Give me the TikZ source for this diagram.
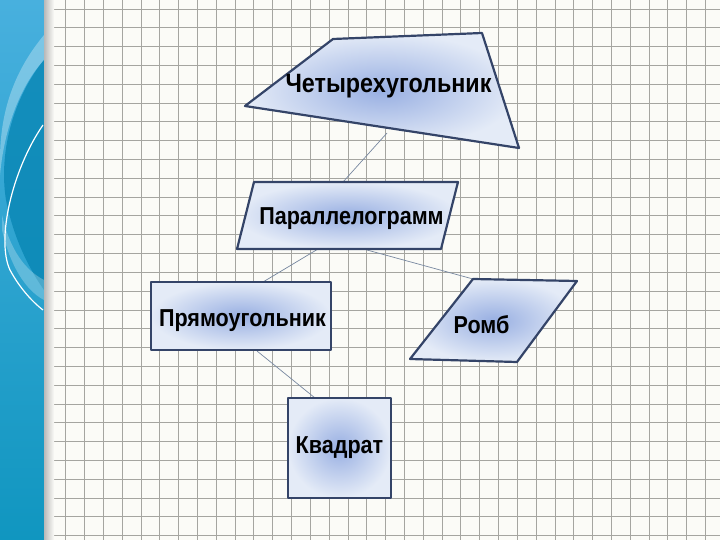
\documentclass[tikz,border=0pt]{standalone}
\usepackage{fontspec}
\setmainfont{Liberation Sans}
\newfontfamily\labelfont[FakeStretch=0.88]{Liberation Sans}
\definecolor{paper}{RGB}{251,251,247}
\definecolor{gridgray}{RGB}{165,165,160}
\definecolor{stripTop}{RGB}{72,176,222}
\definecolor{stripBot}{RGB}{16,150,192}
\definecolor{stripDark}{RGB}{8,134,180}
\definecolor{shapein}{RGB}{152,175,226}
\definecolor{shapeout}{RGB}{228,235,247}
\definecolor{shapeline}{RGB}{52,68,104}
\definecolor{linkgray}{RGB}{120,136,160}
\begin{document}
\begin{tikzpicture}[x=1pt,y=-1pt,
  gridline/.style={draw=gridgray, line width=0.6pt},
  figbox/.style={draw=shapeline, line width=2.2pt, line join=round, inner color=shapein, outer color=shapeout},
  link/.style={draw=linkgray, line width=0.7pt},
  lbl/.style={font=\labelfont\bfseries\fontsize{24.5}{28}\selectfont, text=black, anchor=base, inner sep=0pt}]
\useasboundingbox (0,0) rectangle (720,540);
\fill[paper] (0,0) rectangle (720,540);
\foreach \i in {0,...,36}
  \draw[gridline] ({46.7+18.82*\i},0) -- ({46.7+18.82*\i},540);
\foreach \j in {0,...,28}
  \draw[gridline] (44,{9+18.8*\j}) -- (720,{9+18.8*\j});
\shade[top color=stripTop, bottom color=stripBot] (0,0) rectangle (44,540);
\begin{scope}
  \clip (0,0) rectangle (44,540);
  \fill[white, opacity=0.3] (44,35) .. controls (15,70) and (0,110) .. (0,160)
    -- (0,175) .. controls (5,120) and (25,80) .. (44,60) -- cycle;
  \fill[stripDark, opacity=0.8] (44,60) .. controls (15,95) and (-2,150) .. (6,200)
    .. controls (14,240) and (30,270) .. (44,290) -- cycle;
  \fill[white, opacity=0.25] (2,230) .. controls (10,265) and (25,290) .. (44,300)
    -- (44,280) .. controls (25,270) and (10,250) .. (2,215) -- cycle;
  \draw[white, line width=1.2pt] (43,125) .. controls (12,170) and (-4,240) .. (10,270)
    .. controls (18,285) and (30,300) .. (43,310);
\end{scope}
\shade[left color=gray!55, right color=paper] (44,0) rectangle (54,540);
\coordinate (quad-s) at (387,133);
\coordinate (par-n) at (343,182);
\coordinate (par-sw) at (318,249);
\coordinate (rect-n) at (263,282);
\coordinate (par-s) at (367,250);
\coordinate (romb-nw) at (473,279);
\coordinate (rect-s) at (257,351);
\coordinate (sq-n) at (315,398);
\draw[link] (quad-s) -- (par-n);
\draw[link] (par-sw) -- (rect-n);
\draw[link] (par-s) -- (romb-nw);
\draw[link] (rect-s) -- (sq-n);
\shade[figbox] (333,39) -- (482,33) -- (519,148) -- (245,106) -- cycle;
\shade[figbox] (254,182) -- (458,182) -- (441,249) -- (237,249) -- cycle;
\shade[figbox] (151,282) rectangle (331,350);
\shade[figbox] (473,279) -- (577,281) -- (517,362) -- (410,359) -- cycle;
\shade[figbox] (288,398) rectangle (391,498);
\node[lbl, font=\labelfont\bfseries\fontsize{26.5}{30}\selectfont] (quad) at (388.5,93) {Четырехугольник};
\node[lbl] (par) at (351.5,225) {Параллелограмм};
\node[lbl] (rect) at (242.5,326) {Прямоугольник};
\node[lbl] (romb) at (481.5,333) {Ромб};
\node[lbl] (sq) at (339.5,453) {Квадрат};
\end{tikzpicture}
\end{document}
